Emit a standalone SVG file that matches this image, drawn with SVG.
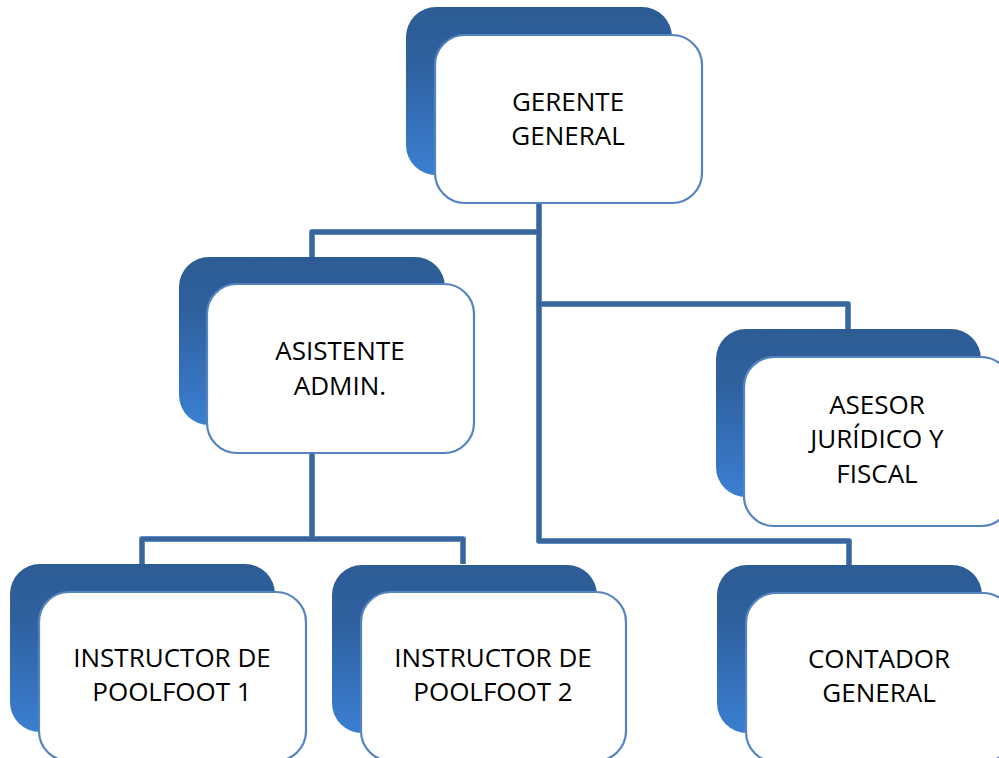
<svg xmlns="http://www.w3.org/2000/svg" width="999" height="758" viewBox="0 0 999 758">
<defs>
<linearGradient id="sh" x1="0" y1="0" x2="0" y2="1">
<stop offset="0" stop-color="#2d5c95"/>
<stop offset="0.35" stop-color="#2f61a0"/>
<stop offset="1" stop-color="#3b7fd2"/>
</linearGradient>
</defs>
<style>
.shadow{fill:url(#sh);}
.box{fill:#ffffff;stroke:#5583bf;stroke-width:2.2;}
.t{font-family:"Open Sans","Noto Sans",sans-serif;font-size:26px;fill:#000;text-anchor:middle;}
.c1{fill:none;stroke:#5f8cc4;stroke-width:6;stroke-linejoin:round;}
.c2{fill:none;stroke:#3a659b;stroke-width:4;stroke-linejoin:round;}
</style>
<g id="connectors">
<path class="c1" d="M539,203 V541 H849 V565 M539,232 H312 V257 M539,304 H848 V329 M312,453 V539 M142,564 V539 H463 V564"/>
<path class="c2" d="M539,203 V541 H849 V565 M539,232 H312 V257 M539,304 H848 V329 M312,453 V539 M142,564 V539 H463 V564"/>
</g>
<g id="gerente">
<rect class="shadow" x="406" y="7" width="266" height="168" rx="30"/>
<rect class="box" x="435" y="35" width="267" height="168" rx="30"/>
<text class="t" x="568" y="111">GERENTE</text>
<text class="t" x="568" y="145">GENERAL</text>
</g>
<g id="asistente">
<rect class="shadow" x="179" y="257" width="266" height="168" rx="30"/>
<rect class="box" x="207" y="284" width="267" height="169" rx="30"/>
<text class="t" x="340" y="360">ASISTENTE</text>
<text class="t" x="340" y="395">ADMIN.</text>
</g>
<g id="asesor">
<rect class="shadow" x="716" y="329" width="265" height="168" rx="30"/>
<rect class="box" x="744" y="357" width="267" height="169" rx="30"/>
<text class="t" x="877" y="414">ASESOR</text>
<text class="t" x="877" y="448">JURÍDICO Y</text>
<text class="t" x="877" y="483">FISCAL</text>
</g>
<g id="instructor1">
<rect class="shadow" x="10" y="564" width="265" height="168" rx="30"/>
<rect class="box" x="39" y="592" width="267" height="169" rx="30"/>
<text class="t" x="172" y="667">INSTRUCTOR DE</text>
<text class="t" x="172" y="701">POOLFOOT 1</text>
</g>
<g id="instructor2">
<rect class="shadow" x="332" y="565" width="265" height="168" rx="30"/>
<rect class="box" x="361" y="592" width="265" height="169" rx="30"/>
<text class="t" x="493" y="667">INSTRUCTOR DE</text>
<text class="t" x="493" y="701">POOLFOOT 2</text>
</g>
<g id="contador">
<rect class="shadow" x="717" y="565" width="265" height="168" rx="30"/>
<rect class="box" x="746" y="593" width="267" height="169" rx="30"/>
<text class="t" x="879" y="668">CONTADOR</text>
<text class="t" x="879" y="702">GENERAL</text>
</g>
</svg>
